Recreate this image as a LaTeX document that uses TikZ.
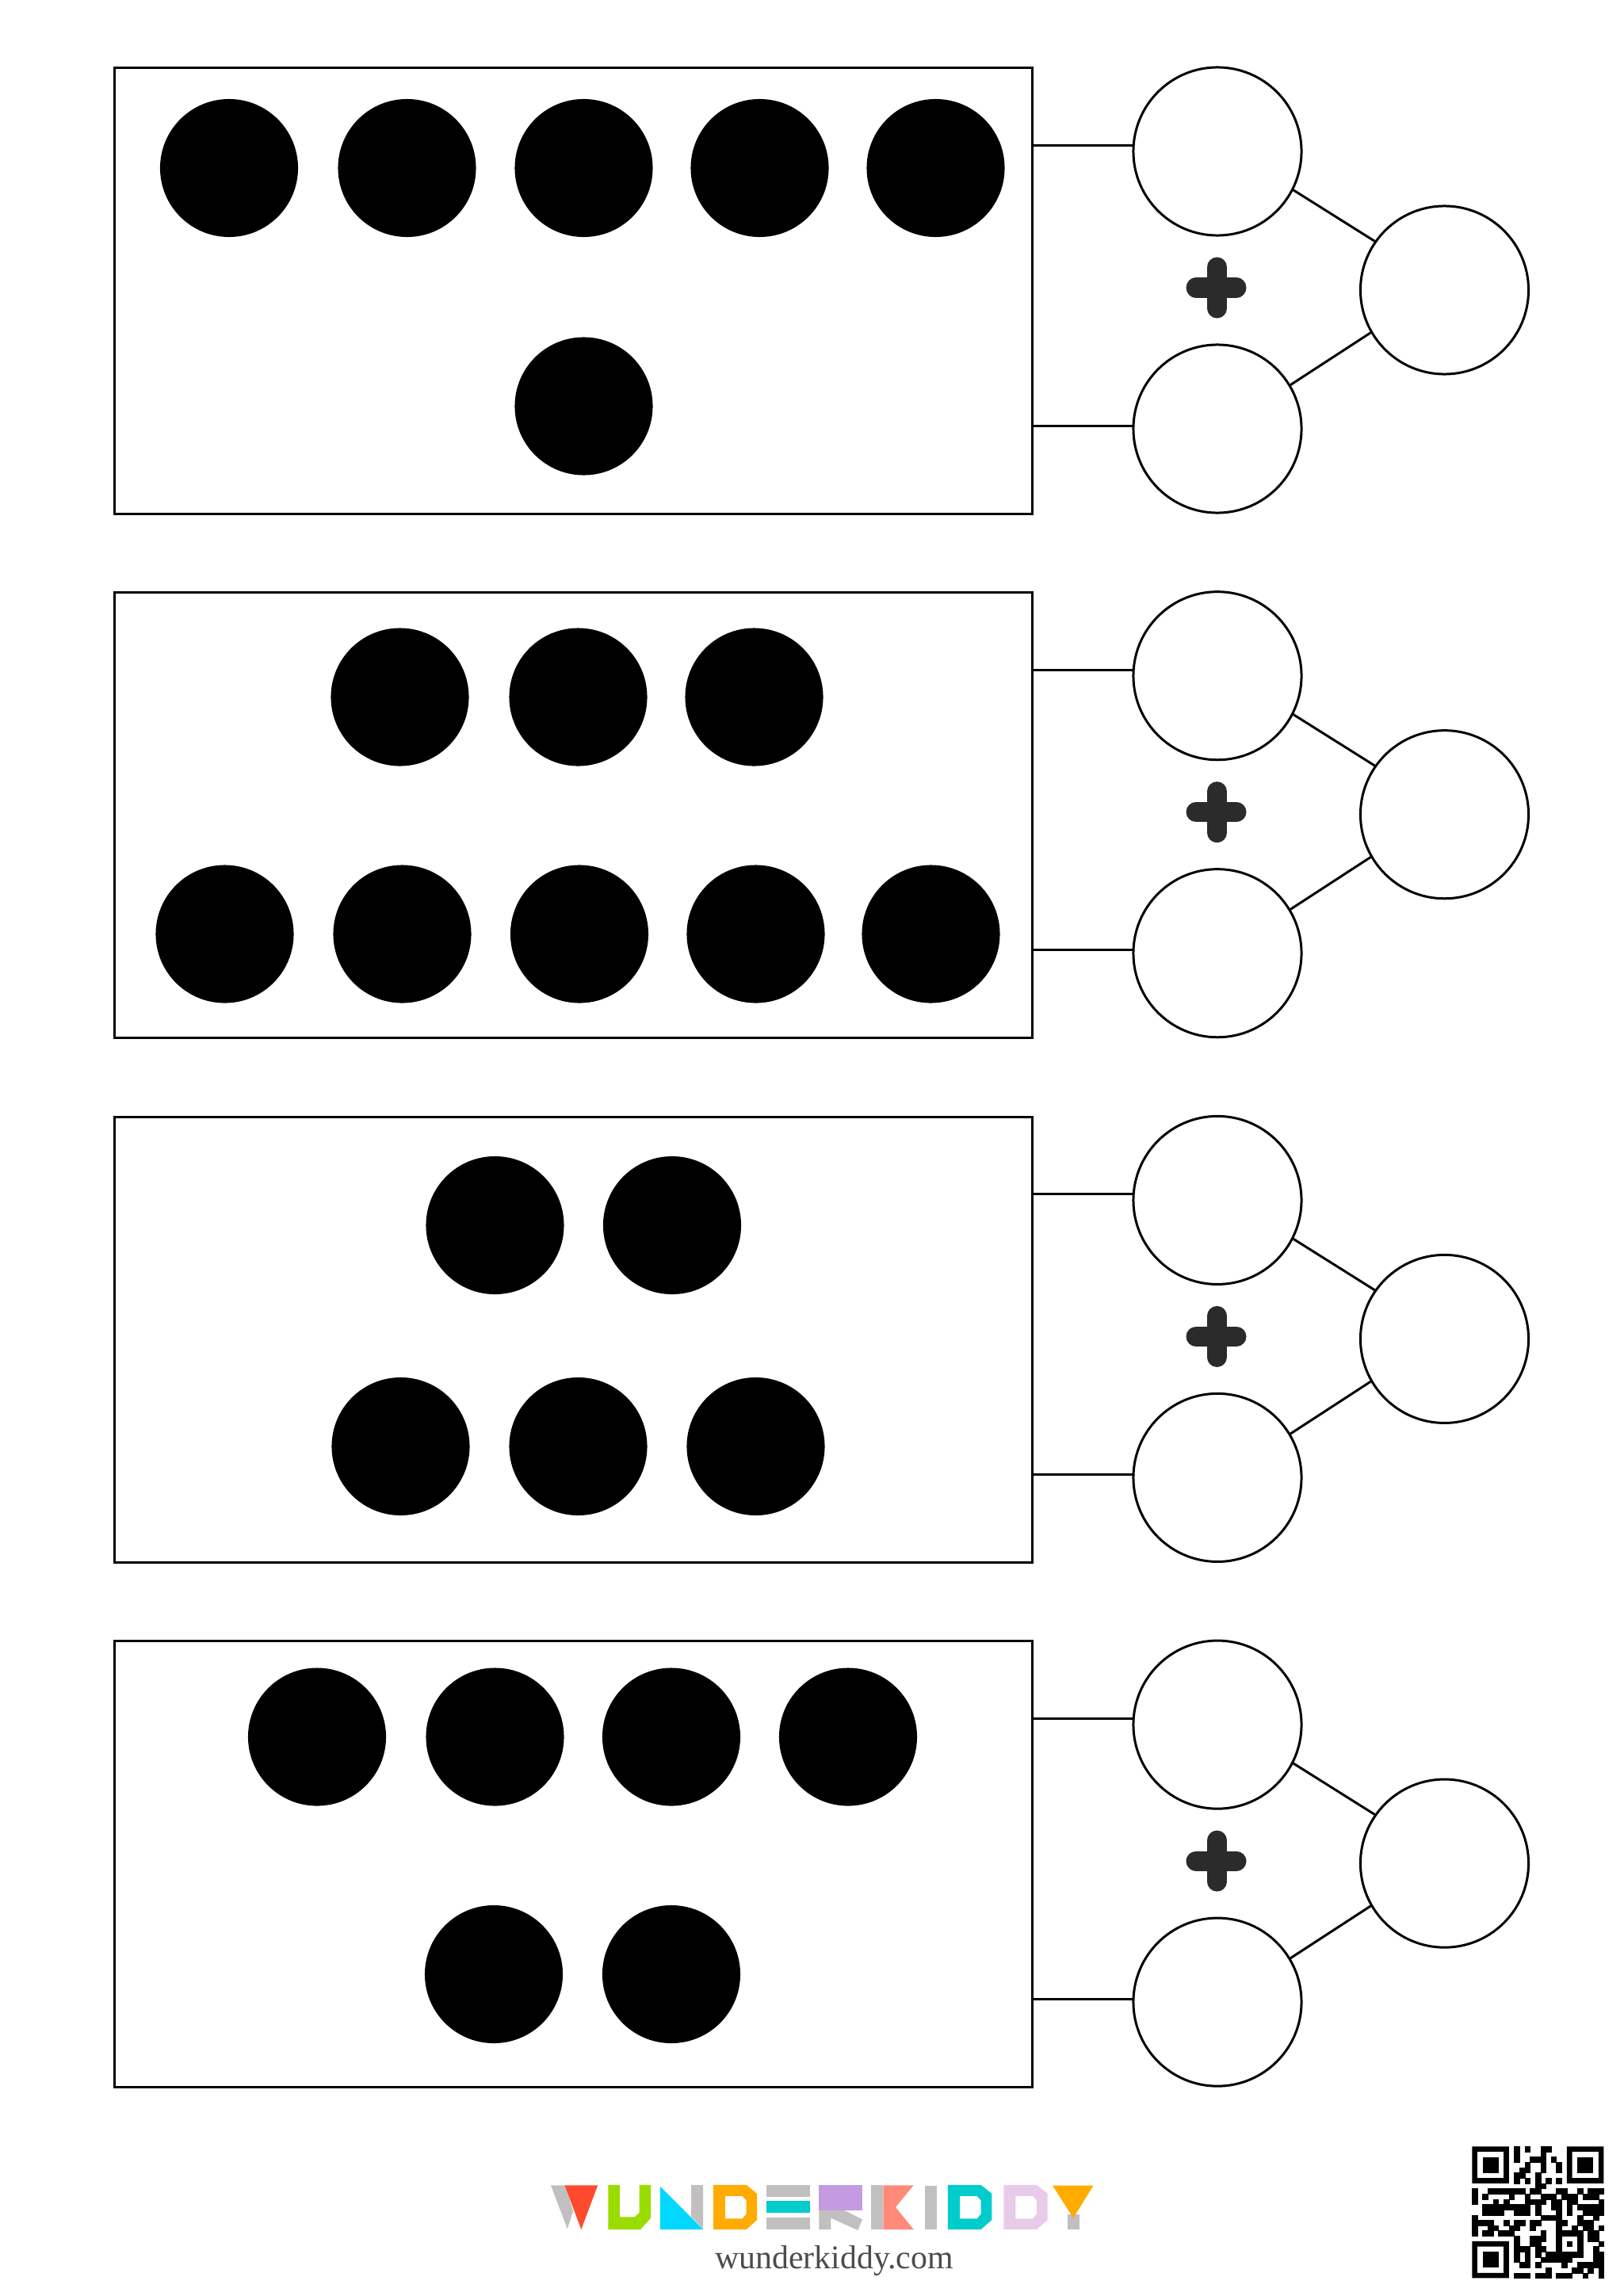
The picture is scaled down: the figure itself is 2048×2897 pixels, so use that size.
\documentclass[tikz,border=0pt]{standalone}
\usepackage{fontspec}
\setmainfont{Liberation Serif}
\usetikzlibrary{positioning}

\definecolor{logogray}{HTML}{C2BFC1}
\definecolor{logored}{HTML}{FF4A2E}
\definecolor{logogreen}{HTML}{9BDC00}
\definecolor{logoblue}{HTML}{00D8FF}
\definecolor{logoorange}{HTML}{FFAB00}
\definecolor{logoteal}{HTML}{00CCCC}
\definecolor{logopurple}{HTML}{C49BE0}
\definecolor{logosalmon}{HTML}{FF8A7A}
\definecolor{logolilac}{HTML}{E8CBE8}

\begin{document}
\begin{tikzpicture}[
    x=0.01cm, y=-0.01cm,
    cardbox/.style={draw, line width=0.85pt, minimum width=11.57cm,
                    minimum height=5.62cm, inner sep=0pt},
    blank/.style={draw, circle, line width=0.85pt, minimum size=2.12cm,
                  inner sep=0pt},
    dot/.style={circle, fill=black, minimum size=1.74cm, inner sep=0pt},
    link/.style={line width=0.85pt},
    crossbar/.style={line width=0.25cm, line cap=round, color=black!83},
    qrcell/.style={fill=black, draw=black, line width=0.1pt}
  ]
  \useasboundingbox (0,0) rectangle (2048,2897);

  % boxes, circles and their links
  \foreach \r in {1,...,4} {
    \pgfmathsetmacro{\ypos}{367 + (\r-1)*661.7}
    \node[cardbox] (box\r) at (723.5, \ypos) {};
    \node[blank] (top\r) at (1536, \ypos-176) {};
    \node[blank] (bot\r) at (1536, \ypos+174) {};
    \node[blank] (sum\r) at (1822.5, \ypos-1) {};

    \draw[link] (box\r.east |- top\r.176) -- (top\r.176);
    \draw[link] (box\r.east |- bot\r.178.6) -- (bot\r.178.6);
    \draw[link] (top\r.-27) -- (sum\r.145);
    \draw[link] (bot\r.31) -- (sum\r.210.6);

    \draw[crossbar] (1509, \ypos-4) -- (1560, \ypos-4);
    \draw[crossbar] (1535.5, \ypos-30) -- (1535.5, \ypos+22);
  }

  % dots
  \foreach \i/\xpos/\ypos in {
      a/289/212, b/513.5/212, c/736.5/212, d/958.5/212, e/1180.5/212, f/736.5/512.5,
      g/504.5/879.5, h/729.5/879.5, i/951.5/879.5,
      j/283.5/1178.5, k/507.5/1178.5, l/731/1178.5, m/953.5/1178.5, n/1174.5/1178.5,
      o/624.5/1546, p/848/1546, q/505.5/1825, r/729.5/1825, s/953.5/1825,
      t/400/2191.5, u/624.5/2191.5, v/847/2191.5, w/1070/2191.5, x/623/2491, y/847/2491} {
    \node[dot] (dot\i) at (\xpos, \ypos) {};
  }

  % logo
  \begin{scope}[shift={(660,2728.5)}, x=0.004847cm, y=-0.003413cm]
    \fill[logogray] (72,84) -- (110,84) -- (130,180) -- (115,245) -- cycle;
    \fill[logored] (108,84) -- (194,84) -- (151,247) -- cycle;
    \fill[logogreen] (221,83) -- (251,83) -- (251,201) -- (290,201) -- (302,185)
      -- (302,83) -- (332,83) -- (332,205) -- (305,247) -- (221,247) -- cycle;
    \fill[logogray] (437,83) -- (468,83) -- (468,245) -- (437,200) -- cycle;
    \fill[logoblue] (356,88) -- (468,247) -- (356,247) -- cycle;
    \foreach \xoff/\col in {0/logoorange, 610/logoteal, 755/logolilac} {
      \fill[\col, even odd rule, xshift=\xoff*0.004847cm]
        (494,83) -- (580,83) -- (608,115) -- (608,212) -- (580,247) -- (494,247) -- cycle
        (525,124) -- (570,124) -- (580,140) -- (580,190) -- (570,207) -- (525,207) -- cycle;
    }
    \fill[logogray] (632,83) rectangle (745,126);
    \fill[logoteal] (632,143) rectangle (745,187);
    \fill[logogray] (632,203) rectangle (745,247);
    \fill[logogray] (769,177) -- (835,177) -- (882,210) -- (870,250) -- (800,205)
      -- (800,247) -- (769,247) -- cycle;
    \fill[logopurple] (769,84) rectangle (882,177);
    \fill[logogray] (905,84) rectangle (936,247);
    \fill[logosalmon] (936,84) -- (1015,84) -- (968,165) -- (1015,247) -- (936,247) -- cycle;
    \fill[logogray] (1044,85) rectangle (1075,247);
    \fill[logogray] (1415,190) rectangle (1446,247);
    \fill[logoorange] (1376,85) -- (1482,85) -- (1430,205) -- cycle;
  \end{scope}
  \node[font=\fontsize{11.9}{14}\selectfont, text=black!70, inner sep=0pt,
        anchor=base] (site) at (1052.6, 2862.5) {wunderkiddy.com};

  % qr code
  \begin{scope}[shift={(1857.3,2708.3)}, x=0.0664cm, y=-0.0664cm]
    \foreach \xpos/\ypos in {0/0, 18/0, 0/18} {
      \fill[black, even odd rule] (\xpos,\ypos) rectangle ++(7,7)
        (\xpos+1,\ypos+1) rectangle ++(5,5);
      \fill[black] (\xpos+2,\ypos+2) rectangle ++(3,3);
    }
    \foreach \r/\cells in {
        0/{8,10,13,14}, 1/{8,13}, 2/{8,11,12,13,15}, 3/{10,13,16},
        4/{9,10,13,16}, 5/{8,9,12}, 6/{8,10,12,14,16}, 7/{12,13},
        8/{0,3,4,5,6,7,8,9,11,12,16,17,20,22,23,24},
        9/{0,2,7,10,13,14,15,17,18,19,21,22,23},
        10/{0,4,6,10,11,12,13,15,16,18,19,24},
        11/{2,3,4,5,6,7,8,9,10,12,15,16,18,20,21,22,23,24},
        12/{2,3,4,5,8,9,10,12,16,18,21,22,23,24},
        13/{0,13,14,15,16,20,23},
        14/{0,1,2,3,6,8,9,11,12,16,17,20,21,22},
        15/{0,3,4,7,8,11,16,19,21,22,24},
        16/{0,2,3,5,6,7,13,16,17,18,19,20,22,23},
        17/{8,11,12,13,16,20,22,23},
        18/{8,11,12,16,18,20,24},
        19/{8,9,10,12,13,16,20,23},
        20/{8,10,12,14,15,16,17,18,19,20,23,24},
        21/{8,10,13,14,15,16,17,18,23,24},
        22/{9,10,12,17,20,21,22,23,24},
        23/{14,19,20,22,24},
        24/{8,9,10,12,13,14,16,17,18,21,24}} {
      \foreach \c in \cells {
        \fill[qrcell] (\c,\r) rectangle ++(1,1);
      }
    }
  \end{scope}
\end{tikzpicture}
\end{document}
